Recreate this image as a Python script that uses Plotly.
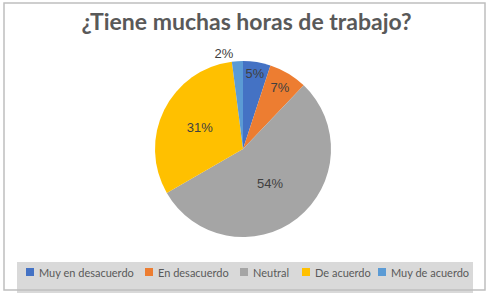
import plotly.graph_objects as go

categories = ["Muy en desacuerdo", "En desacuerdo", "Neutral", "De acuerdo", "Muy de acuerdo"]
values = [5, 7, 54, 31, 2]
colors = ["#4472C4", "#ED7D31", "#A5A5A5", "#FFC000", "#5B9BD5"]
text_labels = ["5%", "7%", "54%", "31%", "2%"]
title_text = "¿Tiene muchas horas de trabajo?"

W, H = 493, 296
cx, cy, r = 243, 149, 88

# legend layout (pixel positions of legend squares, left edges)
legend_sq_x = [26, 145, 240, 302, 378]
legend_y = 272
sq = 8

fig = go.Figure(go.Pie(
    labels=categories,
    values=values,
    marker=dict(colors=colors, line=dict(width=0)),
    sort=False,
    direction="clockwise",
    rotation=0,
    text=text_labels,
    textinfo="text",
    textposition=["inside", "inside", "inside", "inside", "outside"],
    insidetextorientation="horizontal",
    textfont=dict(family="Liberation Sans, Arial", size=13, color="#404040"),
    domain=dict(x=[(cx - r) / W, (cx + r) / W], y=[(H - cy - r) / H, (H - cy + r) / H]),
    hoverinfo="label+percent",
    showlegend=False,
))

shapes = [
    dict(type="rect", xref="paper", yref="paper", x0=17 / W, x1=473 / W, y0=1 - 293 / H, y1=1 - 262 / H,
         line=dict(width=0), fillcolor="#D9D9D9", layer="below"),
    dict(type="rect", xref="paper", yref="paper", x0=4 / W, x1=485 / W, y0=1 - 290 / H, y1=1 - 3 / H,
         line=dict(color="#BFBFBF", width=1.5), fillcolor="rgba(0,0,0,0)", layer="below"),
]
annotations = []
for name, col, x in zip(categories, colors, legend_sq_x):
    shapes.append(dict(type="rect", xref="paper", yref="paper",
                       x0=x / W, x1=(x + sq) / W,
                       y0=1 - (legend_y + sq / 2) / H, y1=1 - (legend_y - sq / 2) / H,
                       line=dict(width=0), fillcolor=col))
    annotations.append(dict(text=name, xref="paper", yref="paper", x=(x + sq + 3) / W, y=1 - legend_y / H,
                            xanchor="left", yanchor="middle", showarrow=False,
                            font=dict(family="Lato, Open Sans", size=11, color="#595959")))

fig.update_layout(
    width=W, height=H,
    margin=dict(l=0, r=0, t=0, b=0),
    paper_bgcolor="white",
    title=dict(text="<b>" + title_text + "</b>", x=0.5, xanchor="center", y=1 - 22 / H, yanchor="middle",
               font=dict(family="Lato, Open Sans", size=23, color="#595959")),
    showlegend=False,
    shapes=shapes,
    annotations=annotations,
)

fig.write_html("out.html",
               config={"displayModeBar": False},
               post_script="document.body.style.margin='0';document.body.style.overflow='hidden';")
